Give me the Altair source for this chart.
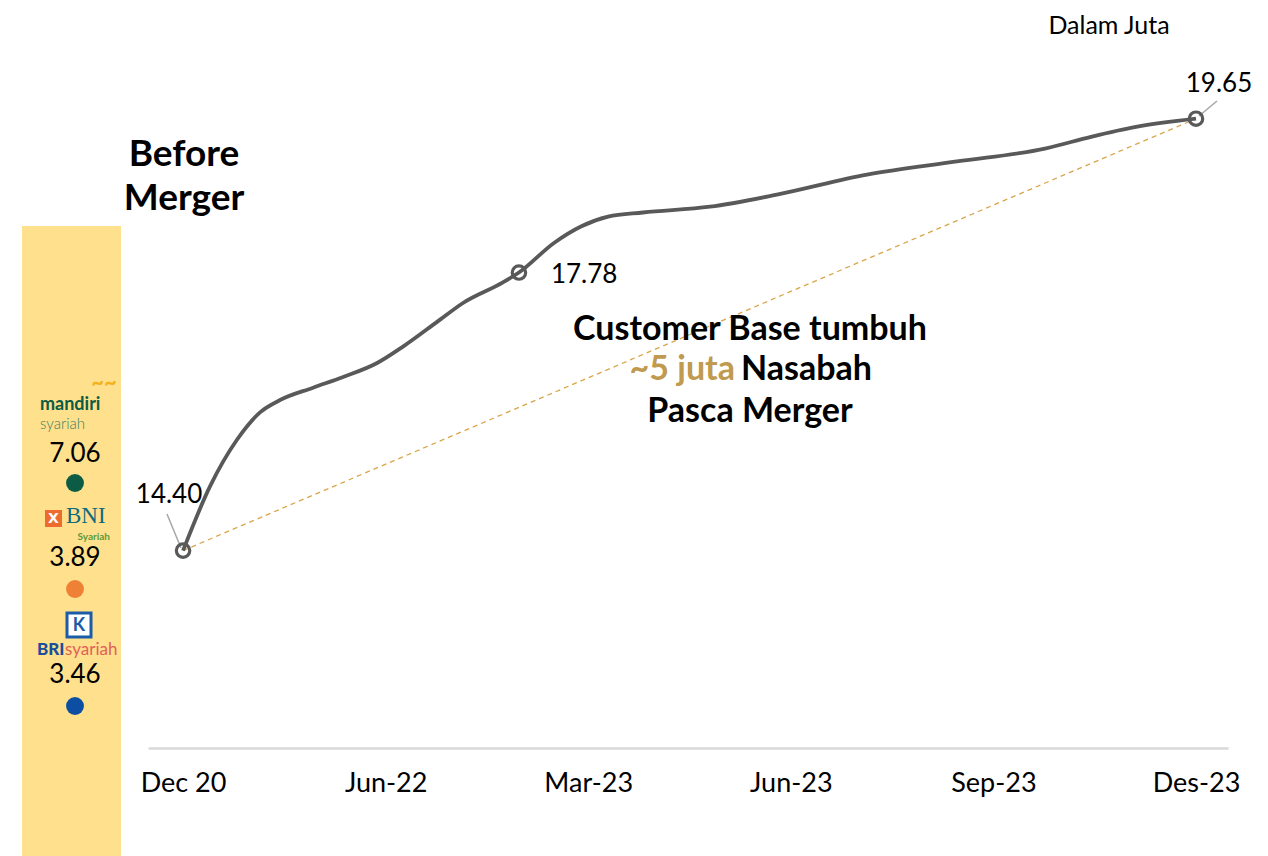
import altair as alt
import pandas as pd

# ---------------- data ----------------
tick_labels = ["Dec 20", "Jun-22", "Mar-23", "Jun-23", "Sep-23", "Des-23"]
# position along the axis slots (0 = Dec 20 ... 5 = Des-23) and customers (million)
x_pos = [0, 0.133, 0.267, 0.380, 0.479, 0.642, 0.790, 0.958, 1.086, 1.254, 1.382,
         1.579, 1.658, 1.831, 1.964, 2.098, 2.270, 2.601, 2.937, 3.376, 3.820,
         4.260, 4.482, 4.704, 5.0]
values = [14.40, 15.18, 15.75, 16.08, 16.23, 16.38, 16.51, 16.68, 16.88, 17.18, 17.41,
          17.66, 17.78, 18.14, 18.34, 18.46, 18.51, 18.58, 18.73, 18.97, 19.13,
          19.29, 19.43, 19.55, 19.65]
key_x = [0, 1.658, 5.0]
key_values = [14.40, 17.78, 19.65]

banks = ["mandiri syariah", "BNI Syariah", "BRIsyariah"]
bank_values = [7.06, 3.89, 3.46]
bank_colors = ["#0B5B45", "#EE8136", "#0B4EA2"]

FONT = "Lato"
OX, OY = 148, 20  # page position of the plot origin (used for decorative pixel positions)

line_df = pd.DataFrame({"x": x_pos, "v": values})
key_df = pd.DataFrame({"x": key_x, "v": key_values,
                       "lab": [f"{v:.2f}" for v in key_values]})
trend_df = key_df.iloc[[0, 2]]

xs = alt.Scale(domain=[-0.173, 5.158], nice=False, zero=False)
ys = alt.Scale(domain=[12.0, 20.85], nice=False, zero=False)
label_expr = "[" + ",".join(f"'{t}'" for t in tick_labels) + "][datum.value]"
xaxis = alt.Axis(values=list(range(len(tick_labels))), labelExpr=label_expr, title=None,
                 grid=False, ticks=False, domainColor="#D9D9D9", domainWidth=2.5,
                 labelFont=FONT, labelFontSize=27, labelColor="#000000",
                 labelPadding=22, labelFlush=False)
X = alt.X("x:Q", scale=xs, axis=xaxis)
Y = alt.Y("v:Q", scale=ys, axis=None)


def px(x):
    return x - OX


def py(y):
    return y - OY


def txt(s, x, y, size, color="#000000", weight="normal", align="center", font=FONT):
    return alt.Chart(pd.DataFrame({"t": [s]})).mark_text(
        font=font, fontSize=size, color=color, fontWeight=weight, align=align,
        baseline="middle").encode(x=alt.value(px(x)), y=alt.value(py(y)), text="t:N")


def rect(x1, x2, y1, y2, fill, stroke=None, sw=0):
    kw = dict(fill=fill)
    if stroke:
        kw.update(stroke=stroke, strokeWidth=sw)
    return alt.Chart(pd.DataFrame({"a": [0]})).mark_rect(**kw).encode(
        x=alt.value(px(x1)), x2=alt.value(px(x2)), y=alt.value(py(y1)), y2=alt.value(py(y2)))


layers = []

# yellow side band
layers.append(rect(22, 121, 226, 856, "#FFE08C"))

# trend (dashed)
layers.append(alt.Chart(trend_df).mark_line(color="#D9A54A", strokeWidth=1.3, strokeDash=[5, 4])
              .encode(x=X, y=Y))

# main smooth line
layers.append(alt.Chart(line_df).mark_line(color="#595959", strokeWidth=3.8, interpolate="monotone")
              .encode(x=X, y=Y))

# leader lines
def leader(x1, y1, x2, y2):
    return alt.Chart(pd.DataFrame({"a": [0]})).mark_rule(color="#A6A6A6", strokeWidth=1.5).encode(
        x=alt.value(px(x1)), y=alt.value(py(y1)), x2=alt.value(px(x2)), y2=alt.value(py(y2)))

layers.append(leader(181, 548, 167, 514))
layers.append(leader(1199, 116, 1217, 101))

# key points (open circles)
layers.append(alt.Chart(key_df).mark_point(shape="circle", filled=False, size=180, strokeWidth=3.2,
                                           color="#595959", opacity=1).encode(x=X, y=Y))

# key labels
offsets = [(-14, -56, "center"), (32, 2, "left"), (23, -35, "center")]
for i, (dx, dy, al) in enumerate(offsets):
    layers.append(alt.Chart(key_df.iloc[[i]]).mark_text(
        font=FONT, fontSize=26, color="#000000", dx=dx, dy=dy, align=al, baseline="middle")
        .encode(x=X, y=Y, text="lab:N"))

# titles / annotations
layers.append(txt("Dalam Juta", 1109, 26, 25))
layers.append(txt("Before", 184, 155, 37, weight="bold"))
layers.append(txt("Merger", 184, 199, 37, weight="bold"))
layers.append(txt("Customer Base tumbuh", 750, 330, 34, weight="bold"))
layers.append(txt("~5 juta", 735, 370, 34, color="#C09A4E", weight="bold", align="right"))
layers.append(txt("Nasabah", 741, 370, 34, weight="bold", align="left"))
layers.append(txt("Pasca Merger", 750, 412, 34, weight="bold"))

# bank logos (text approximations)
layers.append(txt("~~", 104, 383, 22, color="#F2B21C", weight="bold"))
layers.append(txt("mandiri", 40, 405, 18, color=bank_colors[0], weight="bold", align="left"))
layers.append(txt("syariah", 40, 424, 15, color="#3C8060", weight=300, align="left"))
layers.append(rect(45, 62, 510, 527, "#EE6B2F"))
layers.append(txt("X", 53.5, 519, 14, color="#FFFFFF", weight="bold", font="DejaVu Sans"))
layers.append(txt("BNI", 66, 516, 23, color="#0E6B7E", align="left", font="Liberation Serif"))
layers.append(txt("Syariah", 110, 537, 10, color="#5C9B3B", weight="bold", align="right"))
layers.append(rect(67, 91, 613, 637, "#FFFFFF", stroke="#1B5BA8", sw=3))
layers.append(txt("K", 79, 626, 18, color="#1B5BA8", weight="bold"))
layers.append(txt("BRI", 37, 650, 17, color="#1A4F9C", weight=900, align="left"))
layers.append(txt("syariah", 65, 650, 17, color="#E0605A", align="left"))

# bank values and dots
val_y = [454, 558, 675]
dot_y = [483, 589, 706]
for i in range(len(banks)):
    layers.append(txt(f"{bank_values[i]:.2f}", 75, val_y[i], 26))
    layers.append(alt.Chart(pd.DataFrame({"bank": [banks[i]]})).mark_circle(
        size=320, opacity=1, color=bank_colors[i]).encode(
        x=alt.value(px(75)), y=alt.value(py(dot_y[i]))))

chart = alt.layer(*layers).properties(
    width=1080, height=728,
    autosize=alt.AutoSizeParams(type="none"),
    padding={"left": 140, "top": 12, "right": 32, "bottom": 108},
).configure_view(stroke=None)

chart.save("out.html", embed_options={"renderer": "svg", "actions": False})
